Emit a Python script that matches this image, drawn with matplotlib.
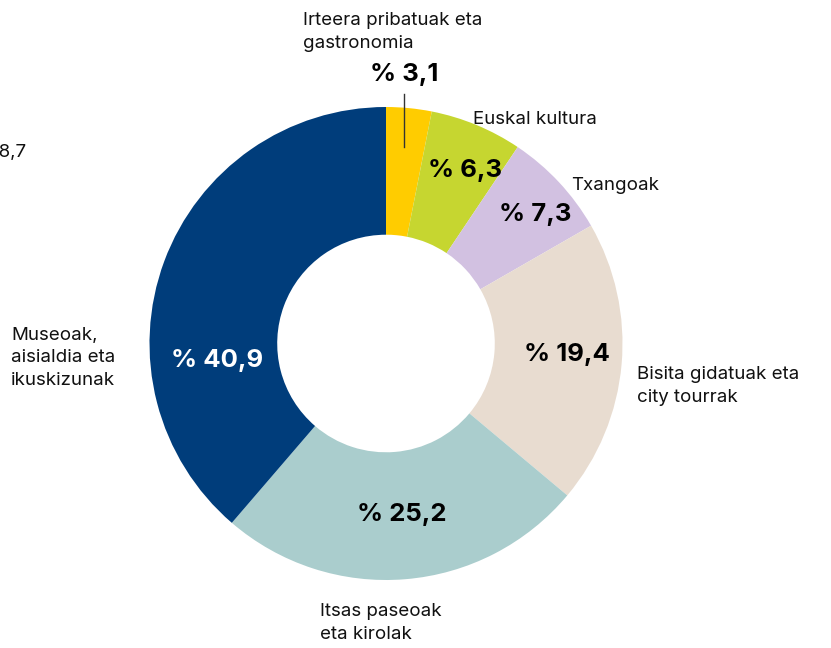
import matplotlib.pyplot as plt

# slices, clockwise from the top
categories = ['Irteera pribatuak eta\ngastronomia', 'Euskal kultura', 'Txangoak',
              'Bisita gidatuak eta\ncity tourrak', 'Itsas paseoak\neta kirolak',
              'Museoak,\naisialdia eta\nikuskizunak']
values = [3.1, 6.3, 7.3, 19.4, 25.2, 38.7]          # wedge sizes (sum 100)
shown = [3.1, 6.3, 7.3, 19.4, 25.2, 40.9]           # numbers printed on the wedges
colors = ['#FFCC00', '#C6D630', '#D2C1E1', '#E8DCD0', '#AACDCD', '#003D7B']

plt.rcParams['font.family'] = ['Inter', 'DejaVu Sans']

W, H = 831, 648
fig = plt.figure(figsize=(W / 100, H / 100), dpi=100)
ax = fig.add_axes([0, 0, 1, 1])

cx, cy, r = 386, H - 343.5, 236.5
ax.pie(values, colors=colors, startangle=90, counterclock=False,
       center=(cx, cy), radius=r,
       wedgeprops=dict(width=r * 0.54, linewidth=0))

ax.set_xlim(0, W)
ax.set_ylim(0, H)
ax.set_aspect('equal')
ax.axis('off')


def Y(py):
    return H - py


def pct(v):
    return '% ' + ('%.1f' % v).replace('.', ',')


# percentage labels (pixel positions)
pct_pos = [(404, 75), (465, 170), (535, 214), (567, 354), (402, 514), (217, 360)]
for i, v in enumerate(shown):
    x, y = pct_pos[i]
    c = 'white' if i == 5 else 'black'
    ax.text(x, Y(y), pct(v), ha='center', va='center', fontsize=18.5,
            fontweight='bold', color=c)

# leader line for the small slice
ax.plot([404, 404], [Y(94), Y(147)], color='#333333', lw=1)

# category labels
lab_pos = [(303, 32), (473, 120), (571, 185), (637, 386), (320, 623), (11, 358)]
for i, lab in enumerate(categories):
    x, y = lab_pos[i]
    ax.text(x, Y(y), lab, ha='left', va='center', fontsize=13.5,
            color='#111111', linespacing=1.45)

# stray label cut off at the left edge in the original
ax.text(27, Y(152), ('%.1f' % values[5]).replace('.', ','), ha='right',
        va='center', fontsize=13.5, color='#111111')

fig.savefig('out.png', dpi=100)
